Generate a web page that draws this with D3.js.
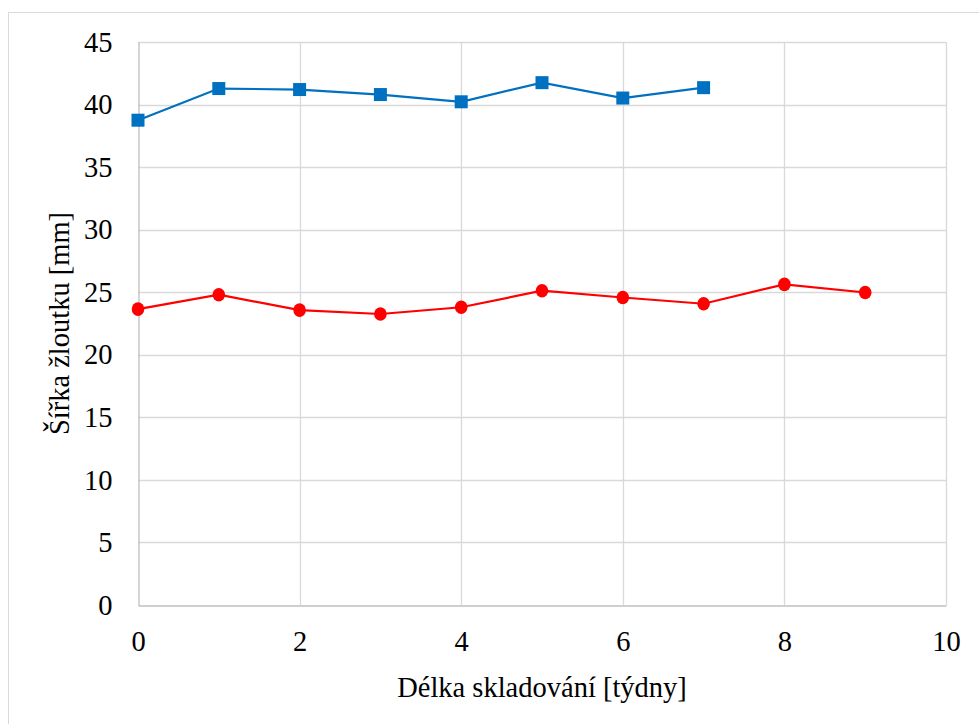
<!DOCTYPE html>
<html>
<head>
<meta charset="utf-8">
<script src="https://cdn.jsdelivr.net/npm/d3@7/dist/d3.min.js"></script>
<style>
  html, body { margin: 0; padding: 0; background: #fff; }
  svg { display: block; }
  text { font-family: "Liberation Serif", "Times New Roman", serif; fill: #000; }
</style>
</head>
<body>
<svg id="chart" width="979" height="724"></svg>
<script>
// Storage time in weeks
const weeksBlue = [0, 1, 2, 3, 4, 5, 6, 7];
const widthBlue = [38.75, 41.28, 41.2, 40.8, 40.22, 41.75, 40.52, 41.35];

const weeksRed = [0, 1, 2, 3, 4, 5, 6, 7, 8, 9];
const widthRed = [23.65, 24.8, 23.57, 23.26, 23.8, 25.12, 24.58, 24.08, 25.63, 24.98];

const xTicks = [0, 2, 4, 6, 8, 10];
const yTicks = [0, 5, 10, 15, 20, 25, 30, 35, 40, 45];

const xTitle = "Délka skladování [týdny]";
const yTitle = "Šířka žloutku [mm]";

const svg = d3.select("#chart");
const W = 979, H = 724;
const plot = { left: 138, right: 946, top: 42, bottom: 605 };
const fontSize = "28.5px";

// chart frame
svg.append("rect")
  .attr("x", 8.5).attr("y", 12.5)
  .attr("width", W + 10).attr("height", H + 10)
  .attr("fill", "#fff").attr("stroke", "#d9d9d9").attr("stroke-width", 1);

const x = d3.scaleLinear().domain([0, 10]).range([plot.left, plot.right]);
const y = d3.scaleLinear().domain([0, 45]).range([plot.bottom, plot.top]);

// gridlines
const grid = svg.append("g");
grid.selectAll("line.h").data(yTicks.filter(d => d > 0)).join("line")
  .attr("class", "h")
  .attr("x1", plot.left).attr("x2", plot.right)
  .attr("y1", d => Math.round(y(d)) + 0.5).attr("y2", d => Math.round(y(d)) + 0.5)
  .attr("stroke", "#d9d9d9").attr("stroke-width", 1.3);
grid.selectAll("line.v").data(xTicks.filter(d => d > 0)).join("line")
  .attr("class", "v")
  .attr("x1", d => Math.round(x(d)) + 0.5).attr("x2", d => Math.round(x(d)) + 0.5)
  .attr("y1", plot.top).attr("y2", plot.bottom)
  .attr("stroke", "#d9d9d9").attr("stroke-width", 1.3);

// axes
const xAxis = d3.axisBottom(x).tickValues(xTicks).tickSize(0).tickPadding(25).tickFormat(d3.format("d"));
const yAxis = d3.axisLeft(y).tickValues(yTicks).tickSize(0).tickPadding(26).tickFormat(d3.format("d"));

const gx = svg.append("g").attr("transform", `translate(0,${plot.bottom + 0.5})`).call(xAxis);
const gy = svg.append("g").attr("transform", `translate(${plot.left + 0.5},0)`).call(yAxis);
[gx, gy].forEach(g => {
  g.select(".domain").attr("stroke", "#bfbfbf").attr("stroke-width", 1.3);
  g.selectAll("text").style("font-family", '"Liberation Serif", serif').style("font-size", fontSize).attr("fill", "#000");
});

// axis titles
svg.append("text")
  .attr("x", 542).attr("y", 697)
  .attr("text-anchor", "middle").style("font-size", fontSize)
  .text(xTitle);
svg.append("text")
  .attr("transform", `translate(69,${(plot.top + plot.bottom) / 2}) rotate(-90)`)
  .attr("text-anchor", "middle").style("font-size", fontSize)
  .text(yTitle);

// series
const line = d3.line().x(d => x(d[0])).y(d => y(d[1]));
const blue = weeksBlue.map((w, i) => [w, widthBlue[i]]);
const red = weeksRed.map((w, i) => [w, widthRed[i]]);

svg.append("path").datum(red).attr("d", line)
  .attr("fill", "none").attr("stroke", "#ff0000").attr("stroke-width", 2.2);
svg.append("g").selectAll("ellipse").data(red).join("ellipse")
  .attr("cx", d => x(d[0])).attr("cy", d => y(d[1]))
  .attr("rx", 6.3).attr("ry", 6.8)
  .attr("fill", "#ff0000");

svg.append("path").datum(blue).attr("d", line)
  .attr("fill", "none").attr("stroke", "#0070c0").attr("stroke-width", 2.2);
const s = 13;
svg.append("g").selectAll("rect").data(blue).join("rect")
  .attr("x", d => x(d[0]) - s / 2).attr("y", d => y(d[1]) - s / 2)
  .attr("width", s).attr("height", s)
  .attr("fill", "#0070c0");
</script>
</body>
</html>
